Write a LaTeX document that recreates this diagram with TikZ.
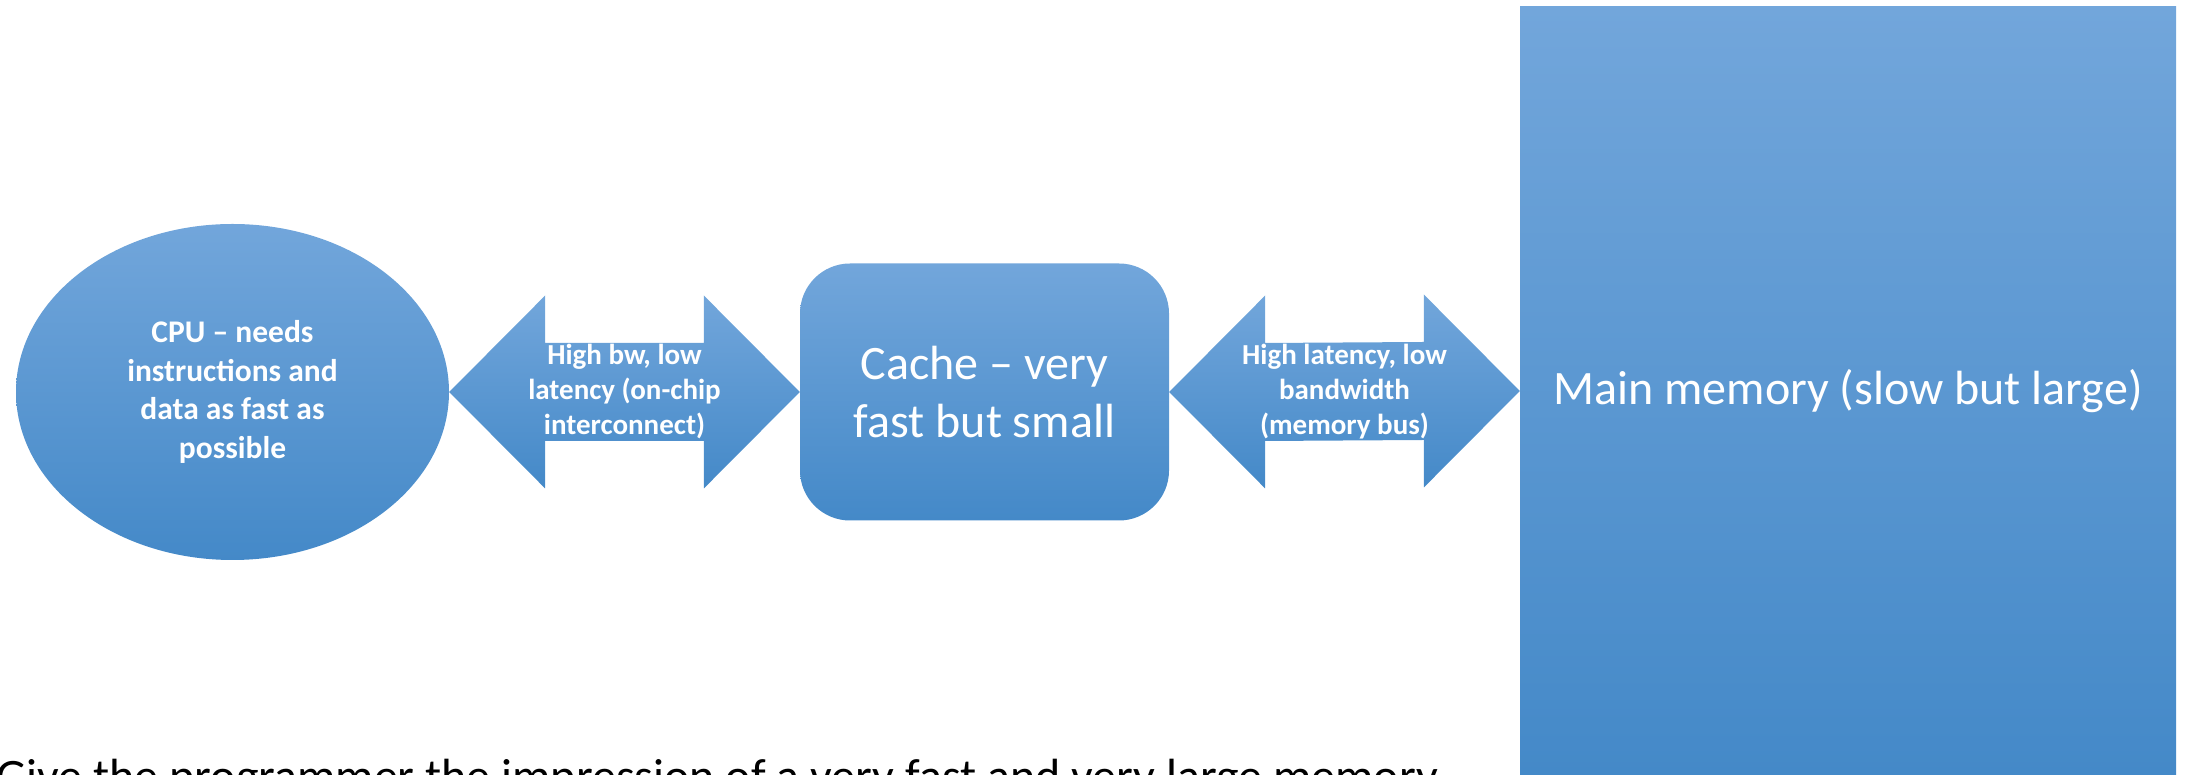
\documentclass[tikz,border=0pt]{standalone}
\usepackage{fontspec}
\setmainfont{Carlito}
\usetikzlibrary{calc}
\usetikzlibrary{shapes.geometric}
\usetikzlibrary{positioning}

\definecolor{shadetop}{RGB}{114,166,219}
\definecolor{shadebottom}{RGB}{68,137,200}

\begin{document}
\begin{tikzpicture}[x=1pt, y=1pt,
  blockfill/.style={top color=shadetop, bottom color=shadebottom, draw=none},
  blocktext/.style={text=white, align=center, inner sep=0pt},
  bigtext/.style={blocktext, font=\fontsize{48}{58}\selectfont},
  cputext/.style={blocktext, font=\bfseries\fontsize{31.5}{38.5}\selectfont},
  linktext/.style={blocktext, font=\bfseries\fontsize{29}{35}\selectfont}]
  \useasboundingbox (0,0) rectangle (2185,775);

  \node[ellipse, blockfill, minimum width=433, minimum height=336, cputext] (cpu) at (232.5,383) {CPU – needs\\instructions and\\data as fast as\\possible};
  \node[rectangle, rounded corners=50, blockfill, minimum width=369, minimum height=257, bigtext] (cache) at (984.5,383) {Cache – very\\fast but small};
  \node[rectangle, blockfill, minimum width=656, minimum height=768, bigtext] (mem) at (1848,384) {Main memory (slow but large)};

  \path[blockfill] (cpu.east) -- ++(96,96.5) -- ++(0,-47.5) -- ($(cache.west)+(-96,49)$) -- ++(0,47.5) -- (cache.west)
    -- ++(-96,-96.5) -- ++(0,47.5) -- ($(cpu.east)+(96,-49)$) -- ++(0,-47.5) -- cycle;
  \path[blockfill] (cache.east) -- ++(96,96.5) -- ++(0,-47.5) -- ($(mem.west)+(-96,49)$) -- ++(0,47.5) -- (mem.west)
    -- ++(-96,-96.5) -- ++(0,47.5) -- ($(cache.east)+(96,-49)$) -- ++(0,-47.5) -- cycle;

  \node[linktext] (onchip) at ($(cpu.east)!0.5!(cache.west)$) {High bw, low\\latency (on-chip\\interconnect)};
  \node[linktext] (membus) at ($(cache.east)!0.5!(mem.west)$) {High latency, low\\bandwidth\\(memory bus)};

  \node[anchor=base west, inner sep=0pt, font=\fontsize{48}{58}\selectfont] (goal) at (-4,-18) {Give the programmer the impression of a very fast and very large memory.};
\end{tikzpicture}
\end{document}
